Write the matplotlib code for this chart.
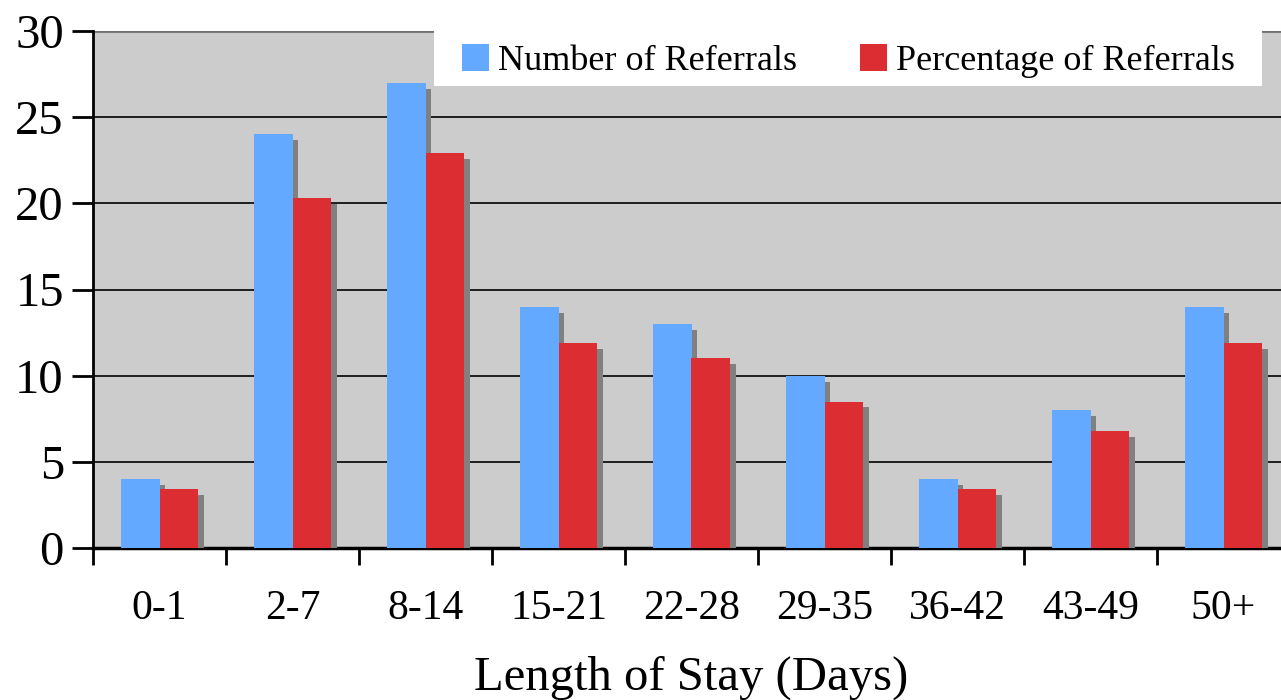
import matplotlib.pyplot as plt
import matplotlib.patheffects as pe
from matplotlib.patches import Rectangle
import numpy as np

categories = ["0-1", "2-7", "8-14", "15-21", "22-28", "29-35", "36-42", "43-49", "50+"]
num_referrals = [4, 24, 27, 14, 13, 10, 4, 8, 14]
pct_referrals = [3.4, 20.3, 22.9, 11.9, 11.0, 8.5, 3.4, 6.8, 11.9]

W, H = 1281, 700
plt.rcParams['font.family'] = ['Liberation Serif', 'DejaVu Serif']

fig = plt.figure(figsize=(W / 100, H / 100), dpi=100)
# axes spans a little past the right edge, like the original
ax_l, ax_r, ax_t, ax_b = 93, 1290, 31, 548
ax = fig.add_axes([ax_l / W, (H - ax_b) / H, (ax_r - ax_l) / W, (ax_b - ax_t) / H])
ax.set_facecolor('#cccccc')

x = np.arange(len(categories))
bw = 0.29
shadow = [pe.SimplePatchShadow(offset=(4.3, -4.3), shadow_rgbFace='#808080', alpha=1.0), pe.Normal()]
b1 = ax.bar(x - bw / 2, num_referrals, bw, color='#62a9ff', label='Number of Referrals', zorder=3)
b2 = ax.bar(x + bw / 2, pct_referrals, bw, color='#dc2d32', label='Percentage of Referrals', zorder=3)
for b in list(b1) + list(b2):
    b.set_path_effects(shadow)

ax.set_xlim(-0.5, len(categories) - 0.5)
ax.set_ylim(0, 30)
ax.set_yticks(np.arange(0, 31, 5))
ax.yaxis.grid(True, color='black', linewidth=1.2, zorder=1)
ax.set_axisbelow(True)
ax.axhline(30, color='#707070', linewidth=2, zorder=2)

ax.set_xticks(x)
ax.set_xticklabels(categories, fontsize=30)
ax.set_xticks(np.arange(-0.5, len(categories), 1), minor=True)
ax.tick_params(axis='x', which='major', length=0, pad=30)
ax.tick_params(axis='x', which='minor', length=12, width=2, color='black')
ax.tick_params(axis='y', labelsize=35, length=15, width=2, pad=6)

for s in ['top', 'right']:
    ax.spines[s].set_visible(False)
ax.spines['left'].set_linewidth(2)
ax.spines['bottom'].set_linewidth(2.5)

ax.set_xlabel('Length of Stay (Days)', fontsize=35, labelpad=20)

# white legend box
def ax_x(px):
    return (px - ax_l) / (ax_r - ax_l)

def ax_y(py):
    return (ax_b - py) / (ax_b - ax_t)

ax.add_patch(Rectangle((ax_x(434), ax_y(86)), ax_x(1262) - ax_x(434), ax_y(31) - ax_y(86),
                       transform=ax.transAxes, facecolor='white', edgecolor='none', zorder=4))

leg = ax.legend(loc='center left', bbox_to_anchor=(ax_x(462), ax_y(61)), ncol=2,
                fontsize=26, frameon=False, borderaxespad=0, borderpad=0,
                handlelength=0.75, handleheight=0.75, handletextpad=0.25,
                columnspacing=1.75)
leg.set_zorder(5)
for h in leg.legend_handles:
    h.set_path_effects([])

fig.savefig('out.png', dpi=100)
